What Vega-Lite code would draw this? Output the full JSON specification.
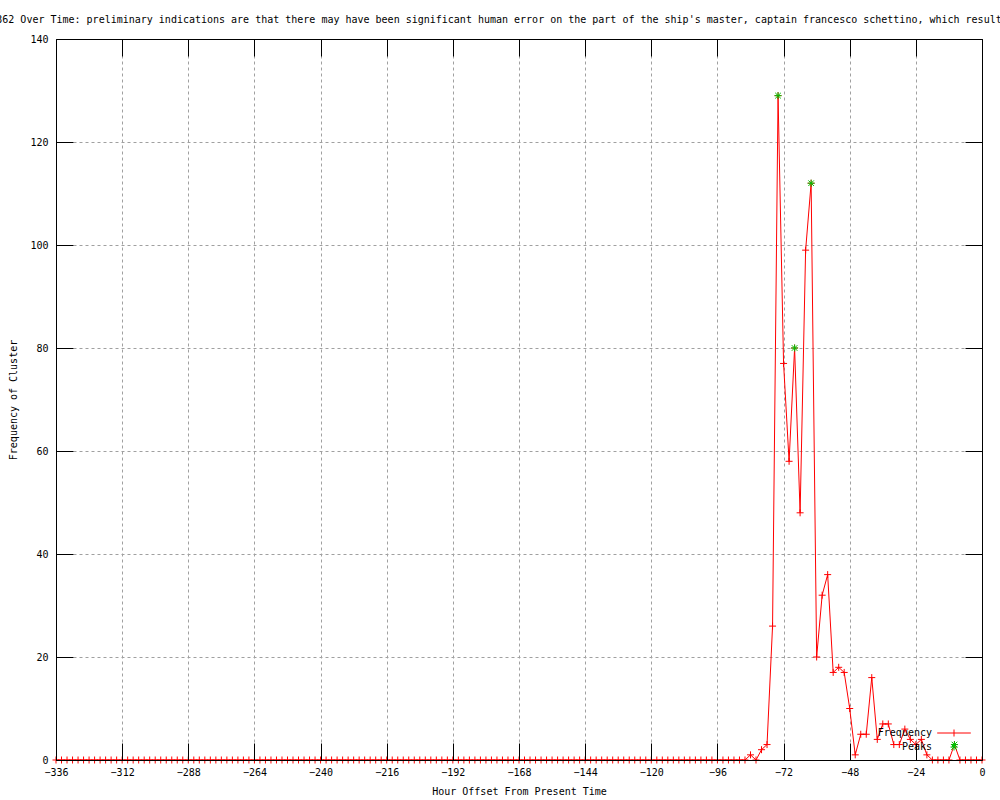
{
"$schema": "https://vega.github.io/schema/vega-lite/v6.json",
"width": 926, "height": 721,
"autosize": {"type": "none"},
"padding": {"left": 56, "top": 39, "right": 18, "bottom": 40},
"background": "white",
"config": {
  "view": {"stroke": null},
  "font": "DejaVu Sans Mono",
  "legend": {"title": null, "orient": "none", "legendX": 893, "legendY": 689, "labelAlign": "right", "labelOffset": -27, "labelFont": "DejaVu Sans Mono", "labelFontSize": 10, "labelColor": "black", "symbolSize": 49, "symbolStrokeWidth": 1, "rowPadding": 2, "padding": 0}
},
"title": {"text": "362 Over Time: preliminary indications are that there may have been significant human error on the part of the ship's master, captain francesco schettino, which result", "anchor": "middle", "frame": "group", "dx": -20, "offset": 9, "fontSize": 10, "fontWeight": "normal", "font": "DejaVu Sans Mono", "color": "black"},
"datasets": {
"freq": [
{"h":-336,"f":0},{"h":-334,"f":0},{"h":-332,"f":0},{"h":-330,"f":0},{"h":-328,"f":0},{"h":-326,"f":0},{"h":-324,"f":0},{"h":-322,"f":0},{"h":-320,"f":0},{"h":-318,"f":0},{"h":-316,"f":0},{"h":-314,"f":0},{"h":-312,"f":0},{"h":-310,"f":0},{"h":-308,"f":0},{"h":-306,"f":0},{"h":-304,"f":0},{"h":-302,"f":0},{"h":-300,"f":0},{"h":-298,"f":0},{"h":-296,"f":0},{"h":-294,"f":0},{"h":-292,"f":0},{"h":-290,"f":0},{"h":-288,"f":0},{"h":-286,"f":0},{"h":-284,"f":0},{"h":-282,"f":0},{"h":-280,"f":0},{"h":-278,"f":0},{"h":-276,"f":0},{"h":-274,"f":0},{"h":-272,"f":0},{"h":-270,"f":0},{"h":-268,"f":0},{"h":-266,"f":0},{"h":-264,"f":0},{"h":-262,"f":0},{"h":-260,"f":0},{"h":-258,"f":0},{"h":-256,"f":0},{"h":-254,"f":0},{"h":-252,"f":0},{"h":-250,"f":0},{"h":-248,"f":0},{"h":-246,"f":0},{"h":-244,"f":0},{"h":-242,"f":0},{"h":-240,"f":0},{"h":-238,"f":0},{"h":-236,"f":0},{"h":-234,"f":0},{"h":-232,"f":0},{"h":-230,"f":0},{"h":-228,"f":0},{"h":-226,"f":0},{"h":-224,"f":0},{"h":-222,"f":0},{"h":-220,"f":0},{"h":-218,"f":0},{"h":-216,"f":0},{"h":-214,"f":0},{"h":-212,"f":0},{"h":-210,"f":0},{"h":-208,"f":0},{"h":-206,"f":0},{"h":-204,"f":0},{"h":-202,"f":0},{"h":-200,"f":0},{"h":-198,"f":0},{"h":-196,"f":0},{"h":-194,"f":0},{"h":-192,"f":0},{"h":-190,"f":0},{"h":-188,"f":0},{"h":-186,"f":0},{"h":-184,"f":0},{"h":-182,"f":0},{"h":-180,"f":0},{"h":-178,"f":0},{"h":-176,"f":0},{"h":-174,"f":0},{"h":-172,"f":0},{"h":-170,"f":0},{"h":-168,"f":0},{"h":-166,"f":0},{"h":-164,"f":0},{"h":-162,"f":0},{"h":-160,"f":0},{"h":-158,"f":0},{"h":-156,"f":0},{"h":-154,"f":0},{"h":-152,"f":0},{"h":-150,"f":0},{"h":-148,"f":0},{"h":-146,"f":0},{"h":-144,"f":0},{"h":-142,"f":0},{"h":-140,"f":0},{"h":-138,"f":0},{"h":-136,"f":0},{"h":-134,"f":0},{"h":-132,"f":0},{"h":-130,"f":0},{"h":-128,"f":0},{"h":-126,"f":0},{"h":-124,"f":0},{"h":-122,"f":0},{"h":-120,"f":0},{"h":-118,"f":0},{"h":-116,"f":0},{"h":-114,"f":0},{"h":-112,"f":0},{"h":-110,"f":0},{"h":-108,"f":0},{"h":-106,"f":0},{"h":-104,"f":0},{"h":-102,"f":0},{"h":-100,"f":0},{"h":-98,"f":0},{"h":-96,"f":0},{"h":-94,"f":0},{"h":-92,"f":0},{"h":-90,"f":0},{"h":-88,"f":0},{"h":-86,"f":0},
{"h":-84,"f":1},{"h":-82,"f":0},{"h":-80,"f":2},{"h":-78,"f":3},{"h":-76,"f":26},{"h":-74,"f":129},{"h":-72,"f":77},{"h":-70,"f":58},{"h":-68,"f":80},{"h":-66,"f":48},{"h":-64,"f":99},{"h":-62,"f":112},{"h":-60,"f":20},{"h":-58,"f":32},{"h":-56,"f":36},{"h":-54,"f":17},{"h":-52,"f":18},{"h":-50,"f":17},{"h":-48,"f":10},{"h":-46,"f":1},{"h":-44,"f":5},{"h":-42,"f":5},{"h":-40,"f":16},{"h":-38,"f":4},{"h":-36,"f":7},{"h":-34,"f":7},{"h":-32,"f":3},{"h":-30,"f":3},{"h":-28,"f":6},{"h":-26,"f":4},{"h":-24,"f":3},{"h":-22,"f":4},{"h":-20,"f":1},{"h":-18,"f":0},{"h":-16,"f":0},{"h":-14,"f":0},{"h":-12,"f":0},{"h":-10,"f":3},{"h":-8,"f":0},{"h":-6,"f":0},{"h":-4,"f":0},{"h":-2,"f":0},{"h":0,"f":0}
],
"peaks": [
{"h":-74,"f":129,"s":"Peaks"},{"h":-68,"f":80,"s":"Peaks"},{"h":-62,"f":112,"s":"Peaks"},{"h":-10,"f":3,"s":"Peaks"}
]
},
"layer": [
  {
    "data": {"name": "freq"},
    "mark": {"type": "line", "color": "#ff0000", "strokeWidth": 1, "clip": false},
    "encoding": {
      "x": {"field": "h", "type": "quantitative", "scale": {"domain": [-336, 0], "nice": false, "zero": false},
        "axis": {"orient": "bottom", "values": [-336,-312,-288,-264,-240,-216,-192,-168,-144,-120,-96,-72,-48,-24,0], "format": "d", "grid": false, "tickSize": -17, "tickColor": "black", "domainColor": "black", "labelColor": "black", "labelFont": "DejaVu Sans Mono", "labelFontSize": 10, "labelPadding": 24, "labelFlush": false, "labelOverlap": false, "title": "Hour Offset From Present Time", "titleFont": "DejaVu Sans Mono", "titleFontSize": 10, "titleFontWeight": "normal", "titleColor": "black", "titlePadding": 9, "zindex": 1}},
      "y": {"field": "f", "type": "quantitative", "scale": {"domain": [0, 140], "nice": false},
        "axis": {"orient": "left", "values": [0,20,40,60,80,100,120,140], "format": "d", "grid": false, "tickSize": -17, "tickColor": "black", "domainColor": "black", "labelColor": "black", "labelFont": "DejaVu Sans Mono", "labelFontSize": 10, "labelPadding": 25, "labelFlush": false, "labelOverlap": false, "title": "Frequency of Cluster", "titleFont": "DejaVu Sans Mono", "titleFontSize": 10, "titleFontWeight": "normal", "titleColor": "black", "titlePadding": 11, "zindex": 1}}
    }
  },
  {
    "data": {"name": "freq"},
    "mark": {"type": "point", "filled": false, "strokeWidth": 1, "opacity": 1, "size": 49, "color": "#ff0000", "shape": "M-1,0L1,0M0,-1L0,1", "clip": false},
    "encoding": {
      "x": {"field": "h", "type": "quantitative",
        "axis": {"orient": "top", "values": [-336,-312,-288,-264,-240,-216,-192,-168,-144,-120,-96,-72,-48,-24,0], "labels": false, "grid": true, "gridColor": "#a0a0a0", "gridDash": [3,3], "gridWidth": 1, "tickSize": -17, "tickColor": "black", "domainColor": "black", "title": null, "zindex": 0}},
      "y": {"field": "f", "type": "quantitative",
        "axis": {"orient": "right", "values": [0,20,40,60,80,100,120,140], "labels": false, "grid": true, "gridColor": "#a0a0a0", "gridDash": [3,3], "gridWidth": 1, "tickSize": -17, "tickColor": "black", "domainColor": "black", "title": null, "zindex": 0}}
    }
  },
  {
    "data": {"name": "peaks"},
    "mark": {"type": "point", "filled": false, "strokeWidth": 1, "opacity": 1, "size": 49, "clip": false},
    "encoding": {
      "x": {"field": "h", "type": "quantitative", "axis": null},
      "y": {"field": "f", "type": "quantitative", "axis": null},
      "color": {"field": "s", "type": "nominal", "scale": {"domain": ["Frequency", "Peaks"], "range": ["#ff0000", "#00c000"]}},
      "shape": {"field": "s", "type": "nominal", "scale": {"domain": ["Frequency", "Peaks"], "range": ["M-4.8,0L4.8,0M0,-1L0,1", "M-1,0L1,0M0,-1L0,1M-0.8,-0.8L0.8,0.8M-0.8,0.8L0.8,-0.8"]}}
    }
  }
],
"resolve": {"axis": {"x": "independent", "y": "independent"}}
}
